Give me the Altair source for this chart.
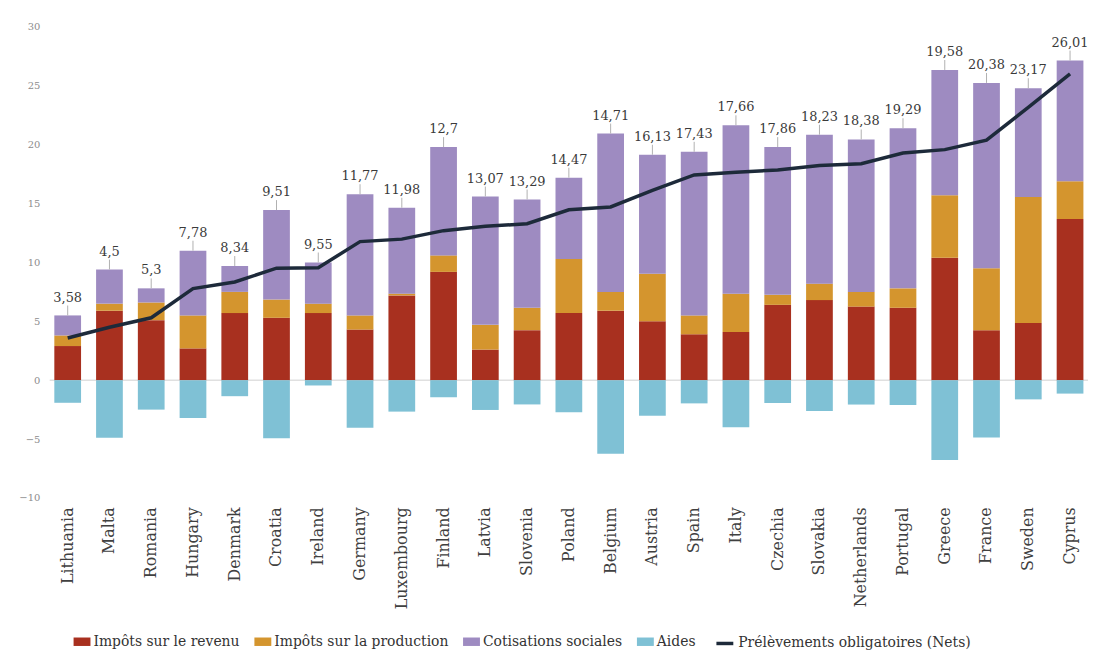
import altair as alt
import pandas as pd

countries = ["Lithuania", "Malta", "Romania", "Hungary", "Denmark", "Croatia", "Ireland",
             "Germany", "Luxembourg", "Finland", "Latvia", "Slovenia", "Poland", "Belgium",
             "Austria", "Spain", "Italy", "Czechia", "Slovakia", "Netherlands", "Portugal",
             "Greece", "France", "Sweden", "Cyprus"]

revenu = [2.9, 5.9, 5.1, 2.7, 5.7, 5.3, 5.7, 4.3, 7.2, 9.2, 2.6, 4.25, 5.7, 5.9, 5.0,
          3.9, 4.1, 6.4, 6.8, 6.25, 6.15, 10.4, 4.25, 4.85, 13.7]
production = [0.9, 0.6, 1.5, 2.8, 1.8, 1.55, 0.8, 1.2, 0.15, 1.4, 2.1, 1.9, 4.6, 1.6, 4.05,
              1.6, 3.25, 0.85, 1.4, 1.25, 1.65, 5.3, 5.25, 10.7, 3.2]
cotisations = [1.7, 2.9, 1.2, 5.5, 2.2, 7.6, 3.5, 10.3, 7.3, 9.2, 10.9, 9.2, 6.9, 13.45, 10.1,
               13.9, 14.3, 12.55, 12.65, 12.95, 13.6, 10.65, 15.75, 9.25, 10.25]
aides = [-1.92, -4.9, -2.5, -3.22, -1.36, -4.94, -0.45, -4.03, -2.67, -1.45, -2.53, -2.06,
         -2.73, -6.24, -3.02, -1.97, -3.99, -1.94, -2.62, -2.07, -2.11, -6.77, -4.87, -1.63, -1.14]
nets = [3.58, 4.5, 5.3, 7.78, 8.34, 9.51, 9.55, 11.77, 11.98, 12.7, 13.07, 13.29, 14.47,
        14.71, 16.13, 17.43, 17.66, 17.86, 18.23, 18.38, 19.29, 19.58, 20.38, 23.17, 26.01]

series = ["Impôts sur le revenu", "Impôts sur la production", "Cotisations sociales", "Aides"]
line_name = "Prélèvements obligatoires (Nets)"
colors = ["#a8301f", "#d4952e", "#9e8bc1", "#7fc1d5"]
line_color = "#1d2a3a"

FONT = "DejaVu Serif"

rows = []
for i, c in enumerate(countries):
    for k, (s, vals) in enumerate(zip(series, [revenu, production, cotisations, aides])):
        rows.append({"country": c, "serie": s, "value": vals[i], "ord": k})
bars_df = pd.DataFrame(rows)

net_df = pd.DataFrame({
    "country": countries,
    "net": nets,
    "serie": [line_name] * len(countries),
    "top": [r + p + c for r, p, c in zip(revenu, production, cotisations)],
    "label": [str(v).replace(".", ",") for v in nets],
})

x_enc = alt.X("country:N", sort=countries,
              scale=alt.Scale(paddingInner=0.36, paddingOuter=0.11),
              axis=alt.Axis(title=None, labelAngle=-90, ticks=False, domain=False,
                            labelFont=FONT, labelFontSize=16, labelColor="#404040",
                            labelPadding=9))
y_scale = alt.Scale(domain=[-10, 30], nice=False)

zero = alt.Chart(pd.DataFrame({"y": [0]})).mark_rule(color="#d0d0d0", strokeWidth=1).encode(
    y=alt.Y("y:Q", scale=y_scale)
)

bars = alt.Chart(bars_df).mark_bar().encode(
    x=x_enc,
    y=alt.Y("value:Q", scale=y_scale, stack="zero",
            axis=alt.Axis(title=None, values=list(range(-10, 31, 5)), grid=False,
                          domain=False, ticks=False, tickSize=0, labelPadding=10,
                          labelFont=FONT, labelFontSize=10, labelColor="#8c8c8c",
                          minExtent=30, maxExtent=30)),
    color=alt.Color("serie:N", scale=alt.Scale(domain=series, range=colors),
                    legend=alt.Legend(title=None, orient="none", direction="horizontal",
                                      legendX=24, legendY=610,
                                      symbolType="M-1,-0.5H1V0.5H-1Z", symbolSize=289,
                                      symbolStrokeWidth=0, symbolOpacity=1,
                                      labelFont=FONT, labelFontSize=14, labelColor="#333333",
                                      labelOffset=3, columnPadding=14, labelLimit=400)),
    order=alt.Order("ord:Q"),
)

line = alt.Chart(net_df).mark_line(strokeWidth=3.5).encode(
    x=alt.X("country:N", sort=countries),
    y=alt.Y("net:Q", scale=y_scale),
    stroke=alt.Stroke("serie:N", scale=alt.Scale(domain=[line_name], range=[line_color]),
                      legend=alt.Legend(title=None, orient="none", direction="horizontal",
                                        legendX=669, legendY=610,
                                        symbolType="stroke", symbolSize=289,
                                        symbolStrokeWidth=3.5,
                                        labelFont=FONT, labelFontSize=14, labelColor="#333333",
                                        labelOffset=3, labelLimit=400)),
)

leaders = alt.Chart(net_df).mark_rule(color="#b0b0b0", strokeWidth=1, y2Offset=-10).encode(
    x=alt.X("country:N", sort=countries),
    y=alt.Y("top:Q", scale=y_scale),
    y2="top:Q",
)

texts = alt.Chart(net_df).mark_text(font=FONT, fontSize=13, color="#3a3a3a",
                                    baseline="alphabetic", dy=-14).encode(
    x=alt.X("country:N", sort=countries),
    y=alt.Y("top:Q", scale=y_scale),
    text="label:N",
)

chart = alt.layer(zero, bars, line, leaders, texts).properties(
    width=1045, height=474,
    padding={"left": 10, "top": 12, "right": 0, "bottom": 0},
    background="white",
).configure_view(strokeWidth=0, stroke="transparent")

chart.save("out.html", embed_options={"renderer": "svg", "actions": False})
